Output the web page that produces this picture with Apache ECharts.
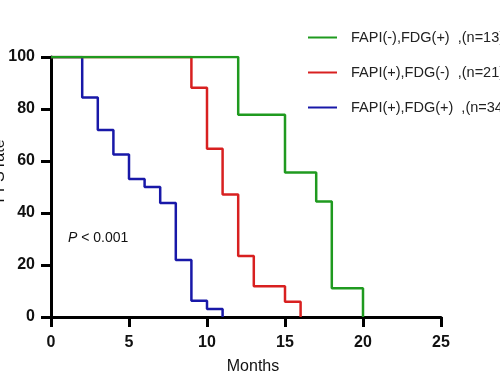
<!DOCTYPE html>
<html><head><meta charset="utf-8">
<script src="https://cdn.jsdelivr.net/npm/echarts@6/dist/echarts.min.js"></script>
<style>html,body{margin:0;padding:0;background:#fff}#c{width:500px;height:383px}</style>
</head><body><div id="c"></div>
<script>
var seriesNames = ['FAPI(-),FDG(+)  ,(n=13)', 'FAPI(+),FDG(-)  ,(n=21)', 'FAPI(+),FDG(+)  ,(n=34)'];
var greenTimes = [0, 12, 15, 17, 18, 20];
var greenValues = [100, 77.8, 55.6, 44.4, 11.1, 0];
var redTimes = [0, 9, 10, 11, 12, 13, 15, 16];
var redValues = [100, 88.2, 64.7, 47.1, 23.5, 11.8, 5.9, 0];
var blueTimes = [0, 2, 3, 4, 5, 6, 7, 8, 9, 10, 11];
var blueValues = [100, 84.4, 71.9, 62.5, 53.1, 50, 43.8, 21.9, 6.25, 3.1, 0];
var xTicks = [0, 5, 10, 15, 20, 25];
var yTicks = [0, 20, 40, 60, 80, 100];
var colors = ['#1f9a1f', '#d82020', '#1818a8'];

function pairs(t, v) { return t.map(function (x, i) { return [x, v[i]]; }); }

var chart = echarts.init(document.getElementById('c'), null, {renderer: 'canvas'});
var axisFont = {fontFamily: 'Liberation Sans, Arial', fontSize: 16, fontWeight: 'bold', color: '#111'};
chart.setOption({
  animation: false,
  backgroundColor: '#fff',
  grid: {left: 51, right: 59, top: 57, bottom: 66, containLabel: false, outerBoundsMode: 'none'},
  legend: {
    orient: 'vertical', left: 303, top: 25, itemWidth: 29, itemHeight: 14, itemGap: 20,
    data: seriesNames,
    icon: 'path://M0,6 L29,6 L29,8 L0,8 Z',
    textStyle: {fontFamily: 'Liberation Sans, Arial', fontSize: 14.5, color: '#222', padding: [0, 0, 0, 9]}
  },
  xAxis: {
    type: 'value', min: 0, max: 25, interval: 5,
    name: 'Months', nameLocation: 'middle', nameGap: 42, nameMoveOverlap: false,
    nameTextStyle: {fontFamily: 'Liberation Sans, Arial', fontSize: 16, color: '#111', padding: [0, 0, 0, 14]},
    axisLine: {lineStyle: {color: '#000', width: 3}},
    axisTick: {show: true, length: 10, inside: false, lineStyle: {color: '#000', width: 3}},
    axisLabel: Object.assign({margin: 18, formatter: function (v) { return xTicks.indexOf(v) >= 0 ? String(v) : ''; }}, axisFont),
    splitLine: {show: false}
  },
  yAxis: {
    type: 'value', min: 0, max: 100, interval: 20,
    name: 'PFS rate', nameLocation: 'middle', nameGap: 43, nameMoveOverlap: false,
    nameTextStyle: {fontFamily: 'Liberation Sans, Arial', fontSize: 16, color: '#111', padding: [0, 0, 0, 32]},
    axisLine: {show: true, lineStyle: {color: '#000', width: 3}},
    axisTick: {show: true, length: 10, lineStyle: {color: '#000', width: 3}},
    axisLabel: Object.assign({margin: 16, formatter: function (v) { return yTicks.indexOf(v) >= 0 ? String(v) : ''; }}, axisFont),
    splitLine: {show: false}
  },
  graphic: [{
    type: 'text', left: 68, top: 231,
    style: {
      text: '{i|P}{n| < 0.001}',
      rich: {
        i: {fontFamily: 'Liberation Sans, Arial', fontStyle: 'italic', fontSize: 14, fill: '#111'},
        n: {fontFamily: 'Liberation Sans, Arial', fontSize: 14, fill: '#111'}
      }
    }
  }],
  series: [
    {name: seriesNames[2], type: 'line', step: 'end', data: pairs(blueTimes, blueValues), showSymbol: false, symbol: 'none', lineStyle: {color: colors[2], width: 2.5}, itemStyle: {color: colors[2]}, z: 2},
    {name: seriesNames[1], type: 'line', step: 'end', data: pairs(redTimes, redValues), showSymbol: false, symbol: 'none', lineStyle: {color: colors[1], width: 2.5}, itemStyle: {color: colors[1]}, z: 3},
    {name: seriesNames[0], type: 'line', step: 'end', data: pairs(greenTimes, greenValues), showSymbol: false, symbol: 'none', lineStyle: {color: colors[0], width: 2.5}, itemStyle: {color: colors[0]}, z: 4}
  ]
});
</script></body></html>
